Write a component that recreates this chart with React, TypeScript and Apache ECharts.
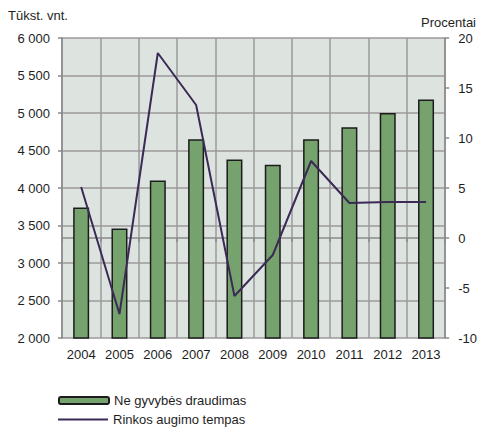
import React, { useEffect, useRef } from "react";
import * as echarts from "echarts";

const years = ["2004", "2005", "2006", "2007", "2008", "2009", "2010", "2011", "2012", "2013"];
// Non-life insurance, thousand units
const insuranceValues = [3740, 3460, 4100, 4650, 4380, 4310, 4650, 4810, 5000, 5180];
// Market growth rate, percent
const growthRate = [5.1, -7.6, 18.5, 13.3, -5.8, -1.7, 7.7, 3.5, 3.6, 3.6];

const barName = "Ne gyvybės draudimas";
const lineName = "Rinkos augimo tempas";
const leftUnit = "Tūkst. vnt.";
const rightUnit = "Procentai";

const FONT = "'Liberation Sans', Arial, sans-serif";
const TEXT = "#1e1e1e";
const AXIS = "#8a8a8a";
const LINE_COLOR = "#3b2a56";

const fmtThousands = (v: number) => {
  const s = String(Math.round(v));
  return s.replace(/\B(?=(\d{3})+(?!\d))/g, " ");
};

export default function App() {
  const ref = useRef<HTMLDivElement>(null);

  useEffect(() => {
    if (!ref.current) return;
    const chart = echarts.init(ref.current, undefined, { renderer: "svg" });
    const axisLine = { show: true, lineStyle: { color: AXIS, width: 1.5 } };
    const axisTick = { show: true, length: 4, lineStyle: { color: AXIS, width: 1.5 } };
    const label = { color: TEXT, fontSize: 13, fontFamily: FONT };

    chart.setOption({
      animation: false,
      backgroundColor: "#ffffff",
      textStyle: { fontFamily: FONT },
      grid: {
        left: 62,
        right: 33,
        top: 38,
        bottom: 89,
        show: true,
        backgroundColor: "#dde4e0",
        borderWidth: 0,
      },
      legend: [
        {
          data: [barName],
          left: 58,
          top: 394,
          padding: 0,
          orient: "vertical",
          itemWidth: 50,
          itemHeight: 7,
          textStyle: { ...label },
          selectedMode: false,
        },
        {
          data: [{ name: lineName, icon: "rect" }],
          left: 58,
          top: 413,
          padding: 0,
          orient: "vertical",
          itemWidth: 50,
          itemHeight: 2,
          itemStyle: { color: LINE_COLOR, borderWidth: 0 },
          textStyle: { ...label },
          selectedMode: false,
        },
      ],
      graphic: [
        {
          type: "text",
          left: 8,
          top: 9,
          style: { text: leftUnit, fill: TEXT, font: `13px ${FONT}` },
        },
        {
          type: "text",
          right: 4,
          top: 16,
          style: { text: rightUnit, fill: TEXT, font: `13px ${FONT}` },
        },
      ],
      xAxis: {
        type: "category",
        data: years,
        boundaryGap: true,
        axisLine,
        axisTick: { ...axisTick, alignWithLabel: false },
        axisLabel: { ...label, margin: 10 },
        splitLine: { show: true, lineStyle: { color: "#9a9a9a", width: 1.5 } },
      },
      yAxis: [
        {
          type: "value",
          min: 2000,
          max: 6000,
          interval: 500,
          axisLine,
          axisTick,
          axisLabel: { ...label, margin: 12, formatter: fmtThousands },
          splitLine: { show: true, lineStyle: { color: "#9a9a9a", width: 1.5 } },
        },
        {
          type: "value",
          min: -10,
          max: 20,
          interval: 5,
          position: "right",
          axisLine,
          axisTick,
          axisLabel: { ...label, margin: 13 },
          splitLine: { show: false },
        },
      ],
      series: [
        {
          name: barName,
          type: "bar",
          data: insuranceValues,
          barWidth: 16,
          itemStyle: { color: "#76a26d", borderColor: "#1c1c1c", borderWidth: 1.5 },
        },
        {
          name: lineName,
          type: "line",
          yAxisIndex: 1,
          data: growthRate,
          symbol: "none",
          lineStyle: { color: LINE_COLOR, width: 2 },
          itemStyle: { color: LINE_COLOR },
        },
      ],
    });
    return () => chart.dispose();
  }, []);

  return (
    <div
      ref={ref}
      style={{ position: "absolute", left: 0, top: 0, width: 480, height: 427 }}
    />
  );
}
